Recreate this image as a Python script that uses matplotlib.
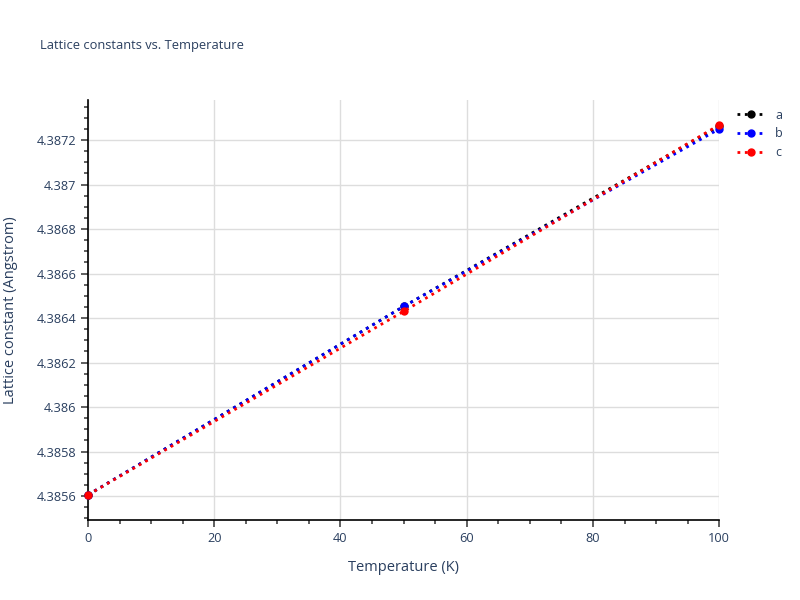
import matplotlib.pyplot as plt
from matplotlib.ticker import MultipleLocator, FuncFormatter

plt.rcParams['font.family'] = ['Open Sans', 'DejaVu Sans']

# data
temperature = [0, 50, 100]
lat_a = [4.385605, 4.386452, 4.387263]
lat_b = [4.385605, 4.386452, 4.387250]
lat_c = [4.385605, 4.386430, 4.387268]

text_col = '#2a3f5f'
grid_col = '#dddddd'

fig = plt.figure(figsize=(8, 6), dpi=100)
ax = fig.add_axes([0.11, 0.1333, 0.789, 0.7])

ax.plot(temperature, lat_a, color='black', linestyle=':', linewidth=2,
        marker='o', markersize=5, label='a', clip_on=False, zorder=3)
ax.plot(temperature, lat_b, color='blue', linestyle=':', linewidth=2,
        marker='o', markersize=5, label='b', clip_on=False, zorder=3)
ax.plot(temperature, lat_c, color='red', linestyle=':', linewidth=2,
        marker='o', markersize=5, label='c', clip_on=False, zorder=3)

ax.set_xlim(0, 100)
ax.set_ylim(4.385492, 4.387380)

ax.xaxis.set_major_locator(MultipleLocator(20))
ax.xaxis.set_minor_locator(MultipleLocator(5))
ax.yaxis.set_major_locator(MultipleLocator(0.0002))
ax.yaxis.set_minor_locator(MultipleLocator(0.00005))


def fmt(v, pos):
    s = '%.4f' % v
    s = s.rstrip('0').rstrip('.')
    return s


ax.yaxis.set_major_formatter(FuncFormatter(fmt))

ax.grid(True, which='major', color=grid_col, linewidth=1)
ax.set_axisbelow(True)
for side in ['top', 'right']:
    ax.spines[side].set_visible(False)
for side in ['left', 'bottom']:
    ax.spines[side].set_color('black')
    ax.spines[side].set_linewidth(1.2)

ax.tick_params(which='major', direction='out', length=5, width=1.2,
               color='#444444', labelcolor=text_col, labelsize=9.2)
ax.tick_params(which='minor', direction='out', length=3, width=1.2,
               color='#444444')

ax.set_xlabel('Temperature (K)', fontsize=10.5, color=text_col, labelpad=11)
ax.set_ylabel('Lattice constant (Angstrom)', fontsize=10.5, color=text_col, labelpad=13)

fig.text(0.05, 0.925, 'Lattice constants vs. Temperature', fontsize=9.3,
         color=text_col, va='center', ha='left')

leg = ax.legend(loc='upper left', bbox_to_anchor=(1.015, 1.0), frameon=False,
                fontsize=9, handlelength=2.2, labelspacing=0.45,
                borderaxespad=0.3)
for t in leg.get_texts():
    t.set_color(text_col)

fig.savefig('out.png', dpi=100)
